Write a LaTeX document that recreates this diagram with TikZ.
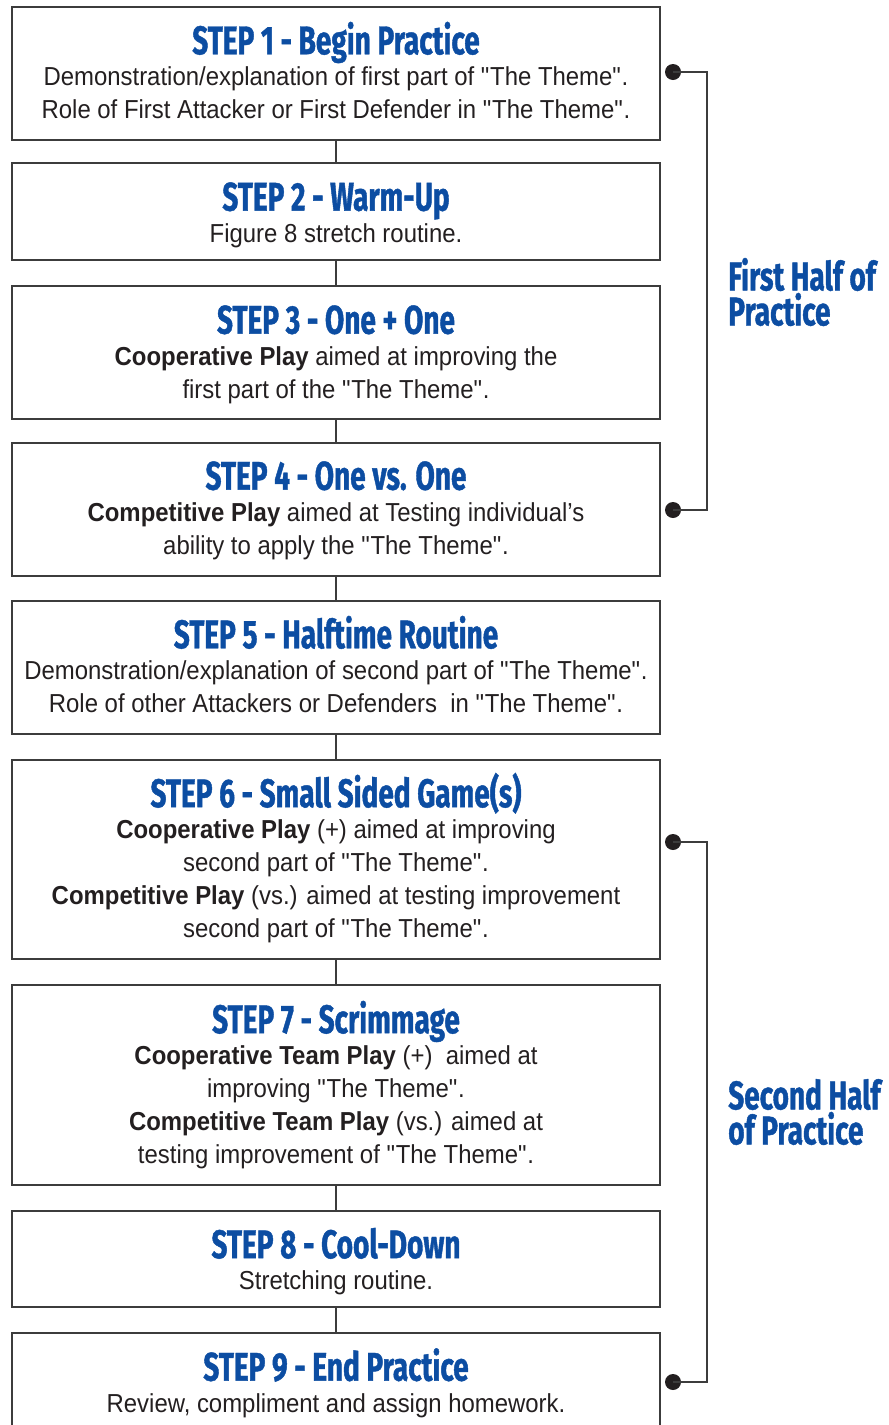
\documentclass[tikz,border=0pt]{standalone}
\usepackage{fontspec}
\setmainfont{Liberation Sans}[FakeStretch=0.92]
\newfontfamily\ttl{Fira Sans}[FakeStretch=0.7,FakeBold=1]
\definecolor{ttlblue}{RGB}{12,77,162}
\definecolor{txt}{RGB}{35,31,32}
\definecolor{boxgray}{RGB}{60,60,60}
\newcommand\steptitle[1]{{\ttl\bfseries\fontsize{30}{30}\selectfont\color{ttlblue}#1}}
\newcommand\q{\textquotedbl}
\begin{document}
\begin{tikzpicture}[x=0.75pt,y=-0.75pt,
 stepbox/.style={draw=boxgray,line width=1.5pt,minimum width=486pt,inner sep=0pt,outer sep=0pt},
 stepbody/.style={inner sep=0pt,align=center,text=txt,font=\fontsize{19.5}{24.75}\selectfont},
 link/.style={draw=boxgray,line width=1pt},
 dot/.style={circle,fill=txt,minimum size=12pt,inner sep=0pt,outer sep=0pt},
 half/.style={anchor=west,align=left,inner sep=0pt,text=ttlblue,font=\ttl\bfseries\fontsize{30}{26.25}\selectfont}
]
\useasboundingbox (0,0) rectangle (889,1425);
\clip (0,0) rectangle (889,1425);

% boxes
\node[stepbox,minimum height=99.75pt] (s1) at (336,73.5) {};
\node[stepbox,minimum height=72.75pt] (s2) at (336,211.5) {};
\node[stepbox,minimum height=99.75pt] (s3) at (336,352.5) {};
\node[stepbox,minimum height=99.75pt] (s4) at (336,509.5) {};
\node[stepbox,minimum height=99.75pt] (s5) at (336,667.5) {};
\node[stepbox,minimum height=149.25pt] (s6) at (336,859.5) {};
\node[stepbox,minimum height=150pt] (s7) at (336,1085) {};
\node[stepbox,minimum height=72pt] (s8) at (336,1259) {};
\node[stepbox,minimum height=72.75pt] (s9) at (336,1381.5) {};

% texts
\node[stepbody,yshift=2.25pt] (t1) at (s1.center) {\steptitle{STEP 1 - Begin Practice}\\[-1pt]
Demonstration/explanation of first part of \q The Theme\q.\\
Role of First Attacker or First Defender in \q The Theme\q.};
\node[stepbody,yshift=-2.6pt] (t2) at (s2.center) {\steptitle{STEP 2 - Warm-Up}\\[-1pt]
Figure 8 stretch routine.};
\node[stepbody,yshift=-1.5pt] (t3) at (s3.center) {\steptitle{STEP 3 - One + One}\\[-1pt]
\textbf{Cooperative Play} aimed at improving the\\
first part of the \q The Theme\q.};
\node[stepbody,yshift=-0.75pt] (t4) at (s4.center) {\steptitle{STEP 4 - One vs. One}\\[-1pt]
\textbf{Competitive Play} aimed at Testing individual’s\\
ability to apply the \q The Theme\q.};
\node[stepbody,yshift=2.25pt] (t5) at (s5.center) {\steptitle{STEP 5 - Halftime Routine}\\[-1pt]
Demonstration/explanation of second part of \q The Theme\q.\\
Role of other Attackers or Defenders\ \ in \q The Theme\q.};
\node[stepbody,yshift=1.1pt] (t6) at (s6.center) {\steptitle{STEP 6 - Small Sided Game(s)}\\[-1pt]
\textbf{Cooperative Play} (+) aimed at improving\\
second part of \q The Theme\q.\\
\textbf{Competitive Play} (vs.) aimed at testing improvement\\
second part of \q The Theme\q.};
\node[stepbody] (t7) at (s7.center) {\steptitle{STEP 7 - Scrimmage}\\[-1pt]
\textbf{Cooperative Team Play} (+)\ \ aimed at\\
improving \q The Theme\q.\\
\textbf{Competitive Team Play} (vs.) aimed at\\
testing improvement of \q The Theme\q.};
\node[stepbody,yshift=-1.9pt] (t8) at (s8.center) {\steptitle{STEP 8 - Cool-Down}\\[-1pt]
Stretching routine.};
\node[stepbody,yshift=-1.1pt] (t9) at (s9.center) {\steptitle{STEP 9 - End Practice}\\[-1pt]
Review, compliment and assign homework.};

\foreach \a/\b in {s1/s2,s2/s3,s3/s4,s4/s5,s5/s6,s6/s7,s7/s8,s8/s9}
  \draw[link] (\a.south) -- (\b.north);

\node[dot] (d1) at (673,72) {};
\node[dot] (d4) at (673,510) {};
\node[dot] (d6) at (673,842) {};
\node[dot] (d9) at (673,1382) {};
\draw[link] (d1.center) -- ++(34,0) |- (d4.center);
\draw[link] (d6.center) -- ++(34,0) |- (d9.center);

\node[half] (h1) at (728,292) {First Half of\\Practice};
\node[half] (h2) at (728,1112) {Second Half\\of Practice};
\end{tikzpicture}
\end{document}
